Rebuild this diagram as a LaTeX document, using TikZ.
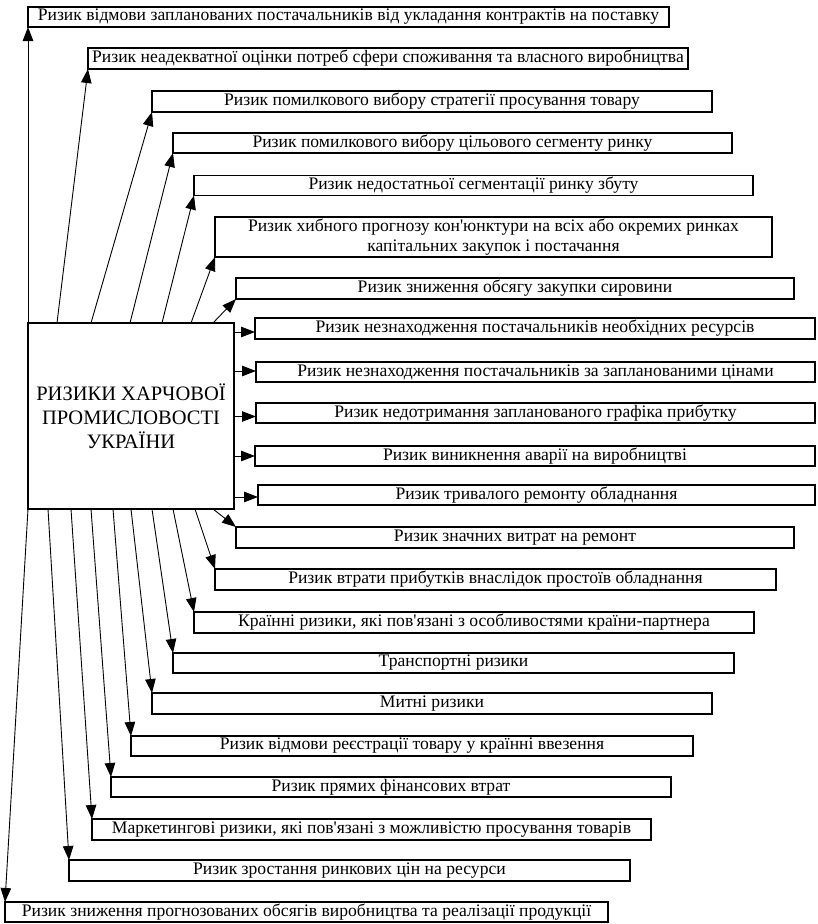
\documentclass[tikz,border=0pt]{standalone}
\usepackage{fontspec}
\setmainfont{Liberation Serif}[Ligatures=TeXOff]
\usetikzlibrary{arrows.meta,calc}
\begin{document}
\begin{tikzpicture}[x=1pt,y=-1pt,
  box/.style={draw,line width=1.1pt,inner sep=0pt,outer sep=0pt,align=center,
    font=\fontsize{17.6}{19.5}\selectfont},
  central/.style={draw,line width=1.1pt,inner sep=0pt,outer sep=0pt,align=center,
    font=\fontsize{20.5}{24}\selectfont},
  arr/.style={line width=0.9pt,-{Triangle[length=14pt,width=10.5pt]}}]
\useasboundingbox (0,0) rectangle (817,924);
\node[central,minimum width=206,minimum height=186] (c) at (131,416) {РИЗИКИ ХАРЧОВОЇ\\ПРОМИСЛОВОСТІ\\УКРАЇНИ};
% top boxes
\node[box,minimum width=641,minimum height=20] (b1) at (348.5,17) {Ризик відмови запланованих постачальників від укладання контрактів на поставку};
\node[box,minimum width=600,minimum height=21] (b2) at (388,58.5) {Ризик неадекватної оцінки потреб сфери споживання та власного виробництва};
\node[box,minimum width=560,minimum height=21] (b3) at (432,101.5) {Ризик помилкового вибору стратегії просування товару};
\node[box,minimum width=559,minimum height=20] (b4) at (452.5,143) {Ризик помилкового вибору цільового сегменту ринку};
\node[box,minimum width=559,minimum height=20] (b5) at (473.5,185.5) {Ризик недостатньої сегментації ринку збуту};
\node[box,minimum width=557,minimum height=40] (b6) at (493.5,237) {Ризик хибного прогнозу кон'юнктури на всіх або окремих ринках\\капітальних закупок і постачання};
\node[box,minimum width=558,minimum height=21] (b7) at (515,288.5) {Ризик зниження обсягу закупки сировини};
% right boxes
\node[box,minimum width=560,minimum height=21] (b8) at (535,328.5) {Ризик незнаходження постачальників необхідних ресурсів};
\node[box,minimum width=559,minimum height=20] (b9) at (535.5,372) {Ризик незнаходження постачальників за запланованими цінами};
\node[box,minimum width=559,minimum height=20] (b10) at (535.5,413) {Ризик недотримання запланованого графіка прибутку};
\node[box,minimum width=560,minimum height=20] (b11) at (535,456) {Ризик виникнення аварії на виробництві};
\node[box,minimum width=557,minimum height=20] (b12) at (536.5,495) {Ризик тривалого ремонту обладнання};
% bottom boxes
\node[box,minimum width=558,minimum height=21] (b13) at (515,537.5) {Ризик значних витрат на ремонт};
\node[box,minimum width=561,minimum height=21] (b14) at (495.5,579.5) {Ризик втрати прибутків внаслідок простоїв обладнання};
\node[box,minimum width=560,minimum height=21] (b15) at (474,622.5) {Країнні ризики, які пов'язані з особливостями країни-партнера};
\node[box,minimum width=561,minimum height=20] (b16) at (453.5,663) {Транспортні ризики};
\node[box,minimum width=560,minimum height=21] (b17) at (432,703.5) {Митні ризики};
\node[box,minimum width=562,minimum height=20] (b18) at (412,746) {Ризик відмови реєстрації товару у країнні ввезення};
\node[box,minimum width=560,minimum height=20] (b19) at (391,787) {Ризик прямих фінансових втрат};
\node[box,minimum width=559,minimum height=21] (b20) at (371.5,829.5) {Маркетингові ризики, які пов'язані з можливістю просування товарів};
\node[box,minimum width=561,minimum height=21] (b21) at (349.5,870.5) {Ризик зростання ринкових цін на ресурси};
\node[box,minimum width=603,minimum height=20] (b22) at (306.5,912) {Ризик зниження прогнозованих обсягів виробництва та реалізації продукції};
% arrows up
\draw[arr] (c.north west) -- (b1.south west);
\draw[arr] ($(c.north west)+(29,0)$) -- (b2.south west);
\draw[arr] ($(c.north west)+(63,0)$) -- (b3.south west);
\draw[arr] ($(c.north west)+(102,0)$) -- (b4.south west);
\draw[arr] ($(c.north west)+(134,0)$) -- (b5.south west);
\draw[arr] ($(c.north west)+(163,0)$) -- (b6.south west);
\draw[arr] ($(c.north west)+(185,0)$) -- (b7.south west);
% arrows right
\foreach \b/\d in {b8/3.5,b9/-1,b10/3.5,b11/0,b12/2}{
  \draw[arr] (c.east |- {$(\b.west)+(0,\d)$}) -- ($(\b.west)+(0,\d)$);
}
% arrows down
\draw[arr] ($(c.south west)+(185,0)$) -- (b13.north west);
\draw[arr] ($(c.south west)+(167,0)$) -- (b14.north west);
\draw[arr] ($(c.south west)+(145,0)$) -- (b15.north west);
\draw[arr] ($(c.south west)+(124,0)$) -- (b16.north west);
\draw[arr] ($(c.south west)+(103,0)$) -- (b17.north west);
\draw[arr] ($(c.south west)+(85,0)$) -- (b18.north west);
\draw[arr] ($(c.south west)+(63,0)$) -- (b19.north west);
\draw[arr] ($(c.south west)+(43,0)$) -- (b20.north west);
\draw[arr] ($(c.south west)+(20,0)$) -- (b21.north west);
\draw[arr] (c.south west) -- (b22.north west);
\end{tikzpicture}
\end{document}
